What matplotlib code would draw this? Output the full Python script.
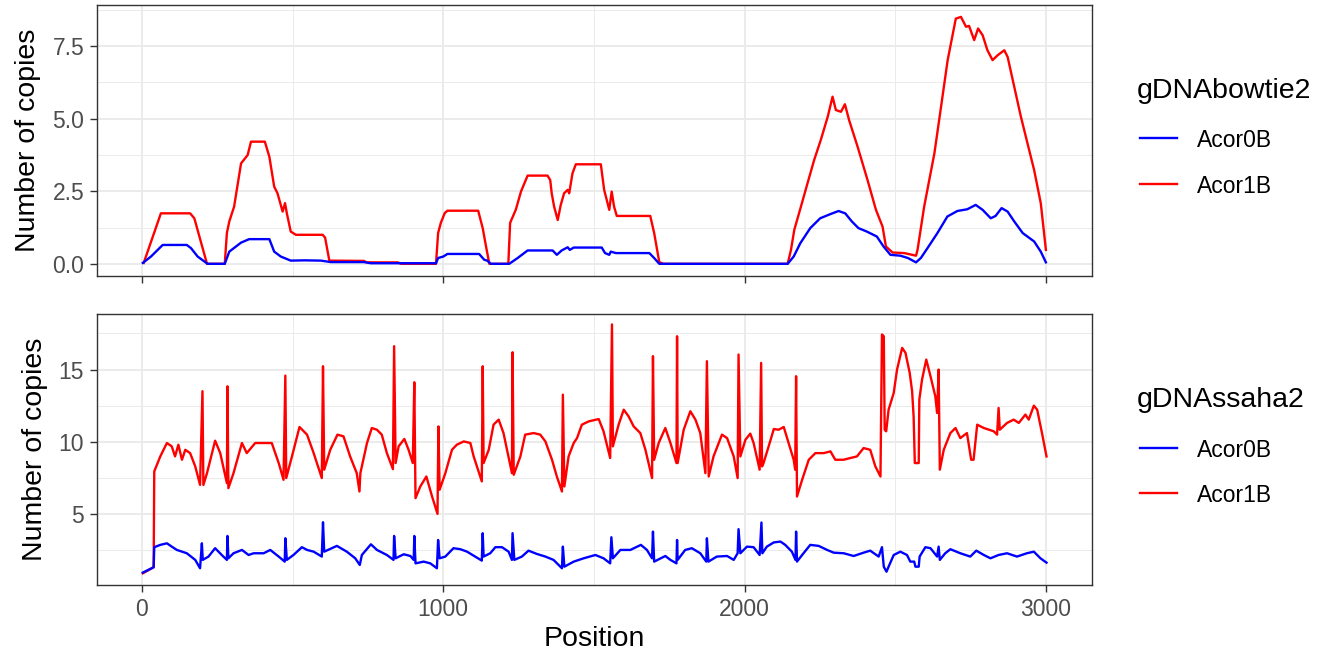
import matplotlib
matplotlib.use("Agg")
import matplotlib.pyplot as plt
from matplotlib.lines import Line2D
from matplotlib.ticker import MultipleLocator

plt.rcParams['font.family'] = ['Liberation Sans', 'DejaVu Sans']

# --- data (position, copies) ---
bowtie_acor0b = [
    (3, 0.03), (30, 0.25), (69, 0.65), (149, 0.65), (163, 0.54), (185, 0.25), (218, 0.0),
    (275, 0.0), (290, 0.42), (329, 0.73), (356, 0.85), (423, 0.85), (439, 0.42), (461, 0.25),
    (494, 0.11), (540, 0.12), (594, 0.11), (627, 0.06), (737, 0.06), (760, 0.02), (976, 0.02),
    (983, 0.2), (1000, 0.25), (1014, 0.34), (1119, 0.34), (1136, 0.14), (1146, 0.11), (1158, 0.0),
    (1219, 0.0), (1247, 0.2), (1280, 0.46), (1363, 0.46), (1377, 0.31), (1393, 0.46), (1413, 0.57),
    (1420, 0.48), (1433, 0.56), (1526, 0.56), (1537, 0.37), (1551, 0.31), (1556, 0.42), (1573, 0.37),
    (1684, 0.37), (1700, 0.2), (1717, 0.0), (2143, 0.0), (2163, 0.25), (2185, 0.71), (2218, 1.23),
    (2251, 1.57), (2284, 1.71), (2312, 1.82), (2334, 1.74), (2356, 1.46), (2378, 1.23), (2406, 1.11),
    (2439, 0.94), (2461, 0.6), (2484, 0.31), (2517, 0.28), (2542, 0.2), (2569, 0.05), (2585, 0.2),
    (2607, 0.54), (2640, 1.06), (2673, 1.63), (2706, 1.82), (2739, 1.88), (2767, 2.03), (2790, 1.86),
    (2817, 1.57), (2833, 1.65), (2853, 1.92), (2873, 1.8), (2895, 1.46), (2923, 1.06), (2961, 0.77),
    (2983, 0.42), (3000, 0.05),
]
bowtie_acor1b = [
    (6, 0.03), (63, 1.74), (160, 1.74), (174, 1.57), (216, 0.0), (275, 0.0), (282, 1.06), (290, 1.46),
    (306, 1.97), (329, 3.46), (351, 3.75), (362, 4.21), (408, 4.21), (423, 3.69), (439, 2.66),
    (450, 2.43), (467, 1.80), (475, 2.09), (481, 1.74), (494, 1.11), (511, 1.0), (600, 1.0),
    (608, 0.9), (622, 0.11), (737, 0.1), (745, 0.05), (849, 0.05), (860, 0.0), (976, 0.0),
    (983, 1.06), (992, 1.41), (1005, 1.75), (1014, 1.83), (1116, 1.83), (1131, 1.23), (1142, 0.6),
    (1153, 0.0), (1216, 0.0), (1222, 1.41), (1241, 1.87), (1258, 2.49), (1280, 3.04), (1346, 3.04),
    (1355, 2.89), (1360, 2.43), (1368, 1.97), (1380, 1.51), (1390, 2.03), (1401, 2.43), (1413, 2.55),
    (1418, 2.43), (1429, 3.12), (1440, 3.43), (1523, 3.43), (1534, 2.55), (1551, 1.86), (1559, 2.49),
    (1567, 1.97), (1576, 1.65), (1687, 1.65), (1700, 1.06), (1717, 0.06), (1730, 0.0), (2143, 0.0),
    (2154, 0.48), (2165, 1.17), (2187, 1.97), (2209, 2.78), (2231, 3.58), (2253, 4.27), (2276, 5.07),
    (2292, 5.76), (2303, 5.30), (2320, 5.24), (2333, 5.50), (2347, 4.95), (2375, 4.04), (2408, 2.89),
    (2436, 1.86), (2458, 1.28), (2469, 0.6), (2491, 0.39), (2530, 0.37), (2569, 0.28), (2574, 0.48),
    (2596, 1.97), (2630, 3.81), (2652, 5.41), (2674, 7.02), (2701, 8.45), (2718, 8.51), (2735, 8.17),
    (2745, 8.2), (2762, 7.71), (2775, 8.11), (2790, 7.88), (2806, 7.36), (2823, 7.02), (2840, 7.19),
    (2862, 7.36), (2873, 7.13), (2895, 6.10), (2917, 5.07), (2939, 4.15), (2961, 3.23), (2983, 2.09),
    (3000, 0.48),
]
ssaha_acor0b = [
    (3, 0.93), (39, 1.30), (41, 2.69), (61, 2.85), (83, 2.96), (99, 2.73), (116, 2.50), (149, 2.27),
    (177, 1.81), (193, 1.23), (199, 2.96), (202, 1.81), (221, 2.04), (243, 2.62), (265, 2.15),
    (282, 1.81), (284, 3.47), (287, 1.92), (304, 2.27), (332, 2.50), (354, 2.15), (371, 2.27),
    (404, 2.27), (426, 2.50), (454, 2.04), (474, 1.69), (476, 3.31), (481, 1.81), (503, 2.15),
    (531, 2.69), (548, 2.50), (570, 2.38), (597, 2.04), (601, 4.42), (605, 2.38), (647, 2.78),
    (680, 2.38), (708, 1.92), (723, 1.46), (730, 2.15), (760, 2.89), (780, 2.50), (813, 2.15),
    (835, 1.81), (837, 3.47), (842, 1.92), (869, 2.20), (891, 2.08), (902, 1.81), (904, 3.47),
    (908, 1.57), (935, 1.69), (957, 1.57), (979, 1.23), (983, 3.19), (988, 1.92), (1007, 2.04),
    (1034, 2.62), (1057, 2.55), (1079, 2.38), (1106, 2.04), (1128, 1.76), (1131, 3.66), (1134, 2.04),
    (1156, 2.27), (1173, 2.69), (1195, 2.69), (1217, 2.38), (1228, 1.81), (1230, 3.66), (1236, 1.81),
    (1261, 2.04), (1283, 2.45), (1311, 2.22), (1339, 2.04), (1366, 1.81), (1394, 1.23), (1397, 2.73),
    (1402, 1.34), (1433, 1.69), (1466, 1.92), (1505, 2.15), (1532, 1.92), (1554, 1.57), (1558, 3.38),
    (1563, 1.92), (1588, 2.50), (1621, 2.50), (1656, 2.85), (1676, 2.50), (1693, 1.92), (1696, 3.77),
    (1700, 1.69), (1737, 2.08), (1754, 1.81), (1774, 1.57), (1776, 3.19), (1778, 1.81), (1803, 2.50),
    (1825, 2.62), (1853, 2.27), (1873, 1.69), (1875, 3.31), (1880, 1.69), (1908, 2.04), (1942, 2.08),
    (1964, 1.81), (1977, 2.27), (1980, 3.94), (1986, 2.27), (2008, 2.73), (2030, 2.69), (2050, 2.15),
    (2056, 4.40), (2059, 2.27), (2074, 2.73), (2097, 3.02), (2119, 3.08), (2135, 2.85), (2157, 2.38),
    (2169, 1.81), (2171, 3.77), (2174, 1.69), (2191, 2.15), (2218, 2.85), (2246, 2.78), (2274, 2.50),
    (2296, 2.31), (2329, 2.27), (2362, 2.08), (2395, 2.31), (2417, 2.45), (2445, 2.04), (2456, 2.69),
    (2462, 1.34), (2471, 0.99), (2478, 1.34), (2495, 2.15), (2517, 2.38), (2539, 2.15), (2550, 1.69),
    (2563, 1.69), (2567, 1.34), (2578, 1.34), (2581, 2.04), (2600, 2.69), (2617, 2.62), (2639, 2.04),
    (2644, 2.73), (2648, 1.81), (2666, 2.27), (2683, 2.55), (2716, 2.27), (2749, 2.04), (2769, 2.45),
    (2794, 2.15), (2816, 1.92), (2843, 2.15), (2871, 2.27), (2904, 2.04), (2937, 2.27), (2960, 2.38),
    (2982, 1.92), (3002, 1.62),
]
ssaha_acor1b = [
    (3, 0.88), (39, 1.30), (41, 7.94), (61, 8.98), (83, 9.91), (99, 9.68), (110, 8.98), (121, 9.79),
    (133, 8.75), (144, 9.44), (160, 9.21), (177, 8.29), (193, 7.01), (201, 13.50), (204, 7.0),
    (216, 7.82), (243, 10.07), (260, 9.21), (282, 7.13), (284, 13.84), (287, 6.78), (304, 7.82),
    (332, 9.91), (348, 9.21), (376, 9.91), (404, 9.91), (431, 9.91), (454, 8.52), (470, 7.36),
    (476, 14.58), (479, 7.48), (498, 8.98), (523, 11.02), (548, 10.49), (570, 9.21), (597, 7.48),
    (601, 15.23), (605, 8.06), (625, 9.44), (649, 10.49), (669, 10.37), (691, 8.98), (713, 7.82),
    (722, 6.55), (725, 7.82), (747, 9.91), (763, 10.95), (780, 10.83), (796, 10.49), (813, 9.21),
    (833, 8.10), (837, 16.62), (842, 8.52), (852, 9.68), (871, 10.19), (885, 9.44), (899, 8.52),
    (904, 14.12), (908, 6.09), (924, 6.90), (944, 7.59), (963, 6.20), (981, 5.0), (984, 11.06),
    (988, 6.67), (1007, 7.82), (1029, 9.44), (1045, 9.79), (1068, 10.02), (1090, 9.91), (1101, 8.98),
    (1123, 7.59), (1128, 7.25), (1131, 15.23), (1134, 8.52), (1151, 9.44), (1167, 11.18), (1184, 11.53),
    (1200, 10.60), (1228, 7.82), (1230, 16.20), (1234, 7.71), (1256, 8.98), (1272, 10.49), (1300, 10.60),
    (1322, 10.49), (1339, 10.02), (1361, 8.75), (1377, 7.59), (1394, 6.55), (1397, 13.26), (1402, 6.90),
    (1416, 8.98), (1433, 9.91), (1444, 10.25), (1460, 11.18), (1483, 11.41), (1516, 11.57), (1532, 10.72),
    (1554, 8.87), (1560, 18.13), (1563, 9.68), (1582, 11.18), (1599, 12.22), (1615, 11.76), (1632, 11.06),
    (1654, 10.60), (1671, 9.44), (1693, 7.48), (1696, 15.93), (1700, 8.75), (1715, 9.91), (1737, 10.95),
    (1754, 9.91), (1774, 8.52), (1776, 17.31), (1778, 8.52), (1798, 10.83), (1820, 12.11), (1837, 11.53),
    (1853, 10.60), (1870, 7.82), (1875, 15.58), (1881, 7.59), (1897, 8.98), (1925, 10.49), (1942, 10.25),
    (1964, 8.98), (1977, 7.48), (1980, 16.04), (1986, 8.98), (2003, 10.14), (2019, 10.56), (2030, 9.91),
    (2050, 8.06), (2055, 15.46), (2058, 8.29), (2063, 8.52), (2080, 9.68), (2097, 10.88), (2113, 10.83),
    (2130, 11.02), (2146, 9.91), (2163, 8.75), (2168, 8.06), (2171, 14.54), (2174, 6.20), (2191, 7.36),
    (2213, 8.75), (2235, 9.21), (2263, 9.21), (2285, 9.33), (2301, 8.75), (2329, 8.75), (2351, 8.87),
    (2373, 8.98), (2395, 9.56), (2417, 9.44), (2434, 8.29), (2451, 7.59), (2456, 17.43), (2462, 17.31),
    (2465, 10.83), (2470, 10.72), (2478, 12.22), (2495, 13.38), (2506, 15.0), (2523, 16.50), (2534, 16.16),
    (2548, 14.77), (2556, 13.50), (2561, 11.76), (2565, 8.52), (2578, 8.52), (2580, 12.92), (2589, 14.31),
    (2603, 15.69), (2617, 14.54), (2633, 13.15), (2639, 11.99), (2644, 15.0), (2648, 8.06), (2661, 9.44),
    (2683, 10.60), (2700, 10.95), (2716, 10.25), (2738, 10.60), (2752, 8.75), (2760, 8.75), (2772, 11.18),
    (2794, 10.95), (2827, 10.72), (2838, 10.49), (2843, 12.34), (2847, 10.83), (2871, 11.30), (2893, 11.53),
    (2910, 11.30), (2932, 11.88), (2943, 11.53), (2960, 12.5), (2971, 12.22), (2987, 10.60), (3002, 8.98),
]

series_names = ["Acor0B", "Acor1B"]
series_colors = ["#0000FF", "#FF0000"]
panel_titles = ["gDNAbowtie2", "gDNAssaha2"]

W, H = 1318, 656
fig = plt.figure(figsize=(W / 100, H / 100), dpi=100)

left, right = 96.7 / W, 1091.7 / W
ax_top = fig.add_axes([left, 1 - 276 / H, right - left, 271 / H])
ax_bot = fig.add_axes([left, 1 - 585 / H, right - left, 271 / H])

panels = [
    (ax_top, [bowtie_acor0b, bowtie_acor1b], (-0.42, 8.92), 2.5),
    (ax_bot, [ssaha_acor0b, ssaha_acor1b], (0.07, 18.85), 5),
]

for ax, data, ylim, ystep in panels:
    # red below, blue on top as in the reference
    for i in [1, 0]:
        xs = [p[0] for p in data[i]]
        ys = [p[1] for p in data[i]]
        ax.plot(xs, ys, color=series_colors[i], lw=1.7, zorder=3 + (1 - i))
    ax.set_xlim(-150, 3152)
    ax.set_ylim(*ylim)
    ax.xaxis.set_major_locator(MultipleLocator(1000))
    ax.xaxis.set_minor_locator(MultipleLocator(500))
    ax.yaxis.set_major_locator(MultipleLocator(ystep))
    ax.yaxis.set_minor_locator(MultipleLocator(ystep / 2))
    ax.grid(which='major', color='#EBEBEB', lw=1.4, zorder=0)
    ax.grid(which='minor', color='#EBEBEB', lw=0.7, zorder=0)
    ax.set_axisbelow(True)
    for s in ax.spines.values():
        s.set_color('#333333')
        s.set_linewidth(1.0)
    ax.tick_params(which='major', length=5, width=1.0, color='#333333',
                   labelsize=16.5, labelcolor='#4D4D4D', pad=4)
    ax.tick_params(which='minor', length=0)
    ax.set_ylabel("Number of copies", fontsize=20.5, labelpad=8)

ax_top.yaxis.set_major_formatter(plt.FuncFormatter(lambda v, p: f"{v:.1f}"))
ax_top.tick_params(labelbottom=False)
ax_bot.set_xlabel("Position", fontsize=20.5, labelpad=4)

# legends drawn in pixel positions of the reference
legend_specs = [(97.5, [138, 184]), (406.7, [447.7, 493.3])]
for title, (ty, keys) in zip(panel_titles, legend_specs):
    fig.text(1136.7 / W, 1 - ty / H, title, fontsize=20.5, va='baseline', ha='left')
    for name, color, ky in zip(series_names, series_colors, keys):
        fig.add_artist(Line2D([1140 / W, 1177 / W], [1 - ky / H, 1 - ky / H],
                              color=color, lw=1.7, transform=fig.transFigure))
        fig.text(1196.7 / W, 1 - (ky + 9) / H, name, fontsize=16.5, va='baseline', ha='left')

fig.savefig("out.png", dpi=100)
